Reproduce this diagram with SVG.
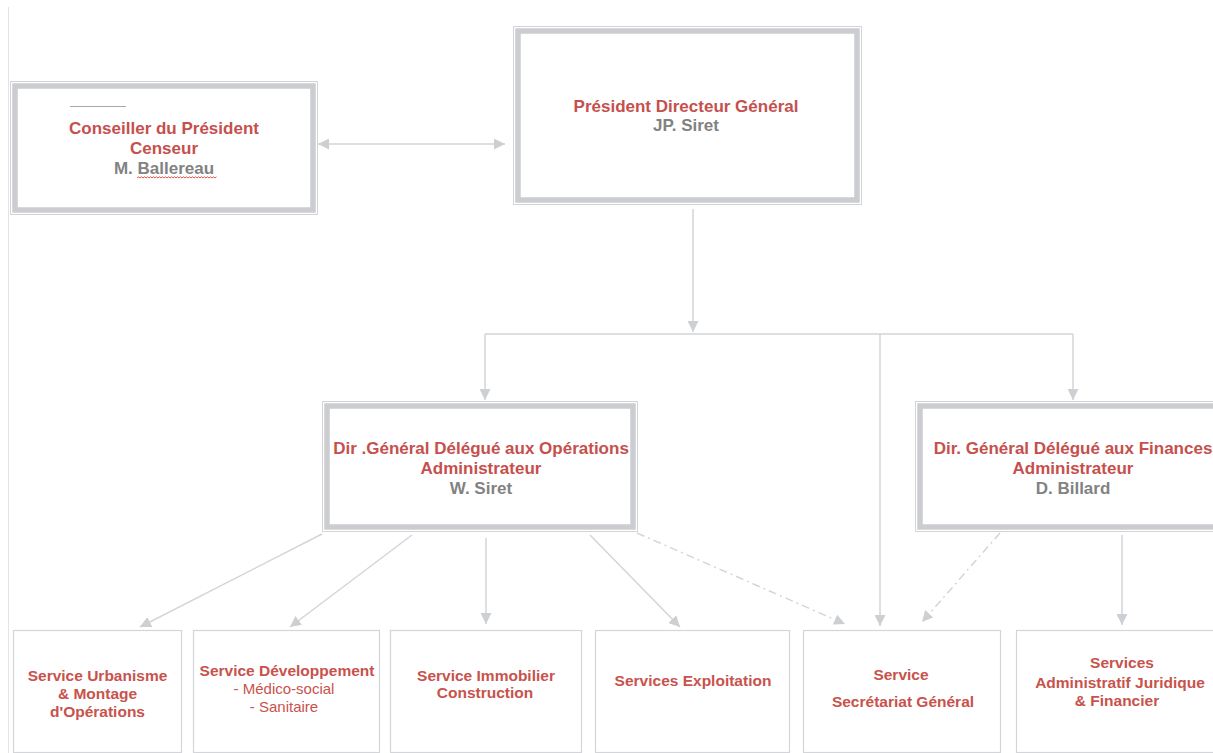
<svg xmlns="http://www.w3.org/2000/svg" width="1213" height="753" viewBox="0 0 1213 753">
<defs>
<marker id="arr" viewBox="0 0 10 10" refX="10" refY="5" markerWidth="11" markerHeight="11" markerUnits="userSpaceOnUse" orient="auto-start-reverse">
<path d="M0,0 L10,5 L0,10 z" fill="#cdd0d3"/>
</marker>
<style>
.outer{fill:#ffffff;stroke:#d3d5d8;stroke-width:1}
.band{fill:none;stroke:#cbcdd0;stroke-width:5.5}
.svc{fill:#ffffff;stroke:#d3d5d8;stroke-width:1.2}
.con{fill:none;stroke:#d3d5d8;stroke-width:1.5}
.dd{stroke-dasharray:8 4 2 4}
.t{font-family:"Liberation Sans",Arial,sans-serif;font-weight:bold;font-size:17px;text-anchor:middle}
.red{fill:#c5504d}
.gray{fill:#828282}
.s{font-family:"Liberation Sans",Arial,sans-serif;font-weight:bold;font-size:15.5px;text-anchor:middle;fill:#c8524c}
.sr{font-family:"Liberation Sans",Arial,sans-serif;font-size:15px;text-anchor:middle;fill:#c8524c}
</style>
</defs>
<rect x="0" y="0" width="1213" height="753" fill="#ffffff"/>
<line x1="8.5" y1="7" x2="8.5" y2="753" stroke="#e4e4e4" stroke-width="1"/>

<g id="connectors">
<line class="con" x1="318" y1="144" x2="505" y2="144" marker-start="url(#arr)" marker-end="url(#arr)"/>
<line class="con" x1="693" y1="209" x2="693" y2="332" marker-end="url(#arr)"/>
<polyline class="con" points="485,334 1073,334"/>
<line class="con" x1="485" y1="334" x2="485" y2="400" marker-end="url(#arr)"/>
<line class="con" x1="1073" y1="334" x2="1073" y2="400" marker-end="url(#arr)"/>
<line class="con" x1="880" y1="334" x2="880" y2="626" marker-end="url(#arr)"/>
<line class="con" x1="322" y1="534" x2="140" y2="627" marker-end="url(#arr)"/>
<line class="con" x1="412" y1="535" x2="290" y2="627" marker-end="url(#arr)"/>
<line class="con" x1="486" y1="538" x2="486" y2="624" marker-end="url(#arr)"/>
<line class="con" x1="590" y1="535" x2="680" y2="627" marker-end="url(#arr)"/>
<line class="con dd" x1="637" y1="533" x2="845" y2="624" marker-end="url(#arr)"/>
<line class="con dd" x1="1000" y1="533" x2="922" y2="622" marker-end="url(#arr)"/>
<line class="con" x1="1122" y1="535" x2="1122" y2="625" marker-end="url(#arr)"/>
</g>

<g id="conseiller">
<rect class="outer" x="10.5" y="81.5" width="307" height="133"/>
<rect class="band" x="15" y="86" width="298" height="124"/>
<line x1="70" y1="106.5" x2="126" y2="106.5" stroke="#a8a8a8" stroke-width="1.2"/>
<text class="t red" x="164" y="134">Conseiller du Président</text>
<text class="t red" x="164" y="154">Censeur</text>
<text class="t gray" x="164" y="174">M. Ballereau</text>
<path d="M137,178 l1.5,-1.2 l1.5,1.2 l1.5,-1.2 l1.5,1.2 l1.5,-1.2 l1.5,1.2 l1.5,-1.2 l1.5,1.2 l1.5,-1.2 l1.5,1.2 l1.5,-1.2 l1.5,1.2 l1.5,-1.2 l1.5,1.2 l1.5,-1.2 l1.5,1.2 l1.5,-1.2 l1.5,1.2 l1.5,-1.2 l1.5,1.2 l1.5,-1.2 l1.5,1.2 l1.5,-1.2 l1.5,1.2 l1.5,-1.2 l1.5,1.2 l1.5,-1.2 l1.5,1.2 l1.5,-1.2 l1.5,1.2 l1.5,-1.2 l1.5,1.2 l1.5,-1.2 l1.5,1.2 l1.5,-1.2 l1.5,1.2 l1.5,-1.2 l1.5,1.2 l1.5,-1.2 l1.5,1.2 l1.5,-1.2 l1.5,1.2 l1.5,-1.2 l1.5,1.2 l1.5,-1.2 l1.5,1.2 l1.5,-1.2 l1.5,1.2 l1.5,-1.2 l1.5,1.2 l1.5,-1.2 l1.5,1.2 l1.5,-1.2" fill="none" stroke="#e04040" stroke-width="0.9"/>
</g>

<g id="pdg">
<rect class="outer" x="513.5" y="26.5" width="348" height="178"/>
<rect class="band" x="518" y="31" width="339" height="169"/>
<text class="t red" x="686" y="112">Président Directeur Général</text>
<text class="t gray" x="686" y="131">JP. Siret</text>
</g>

<g id="dir-operations">
<rect class="outer" x="322.5" y="401.5" width="315" height="130"/>
<rect class="band" x="327" y="406" width="306" height="121"/>
<text class="t red" x="481" y="454">Dir .Général Délégué aux Opérations</text>
<text class="t red" x="481" y="474">Administrateur</text>
<text class="t gray" x="481" y="494">W. Siret</text>
</g>

<g id="dir-finances">
<rect class="outer" x="915.5" y="401.5" width="315" height="130"/>
<rect class="band" x="920" y="406" width="306" height="121"/>
<text class="t red" x="1073" y="454">Dir. Général Délégué aux Finances</text>
<text class="t red" x="1073" y="474">Administrateur</text>
<text class="t gray" x="1073" y="494">D. Billard</text>
</g>

<g id="svc-urbanisme">
<rect class="svc" x="13.5" y="630.5" width="168" height="122"/>
<text class="s" x="97.5" y="681">Service Urbanisme</text>
<text class="s" x="97.5" y="699">&amp; Montage</text>
<text class="s" x="97.5" y="717">d'Opérations</text>
</g>

<g id="svc-developpement">
<rect class="svc" x="193.5" y="630.5" width="186" height="122"/>
<text class="s" x="287" y="676">Service Développement</text>
<text class="sr" x="284" y="694">- Médico-social</text>
<text class="sr" x="284" y="712">- Sanitaire</text>
</g>

<g id="svc-immobilier">
<rect class="svc" x="390.5" y="630.5" width="191" height="122"/>
<text class="s" x="486" y="681">Service Immobilier</text>
<text class="s" x="485" y="698">Construction</text>
</g>

<g id="svc-exploitation">
<rect class="svc" x="595.5" y="630.5" width="194" height="122"/>
<text class="s" x="693" y="686">Services Exploitation</text>
</g>

<g id="svc-secretariat">
<rect class="svc" x="803.5" y="630.5" width="197" height="122"/>
<text class="s" x="901" y="680">Service</text>
<text class="s" x="903" y="707">Secrétariat Général</text>
</g>

<g id="svc-administratif">
<rect class="svc" x="1016.5" y="630.5" width="214" height="122"/>
<text class="s" x="1122" y="668">Services</text>
<text class="s" x="1120" y="688">Administratif Juridique</text>
<text class="s" x="1117" y="706">&amp; Financier</text>
</g>
</svg>
